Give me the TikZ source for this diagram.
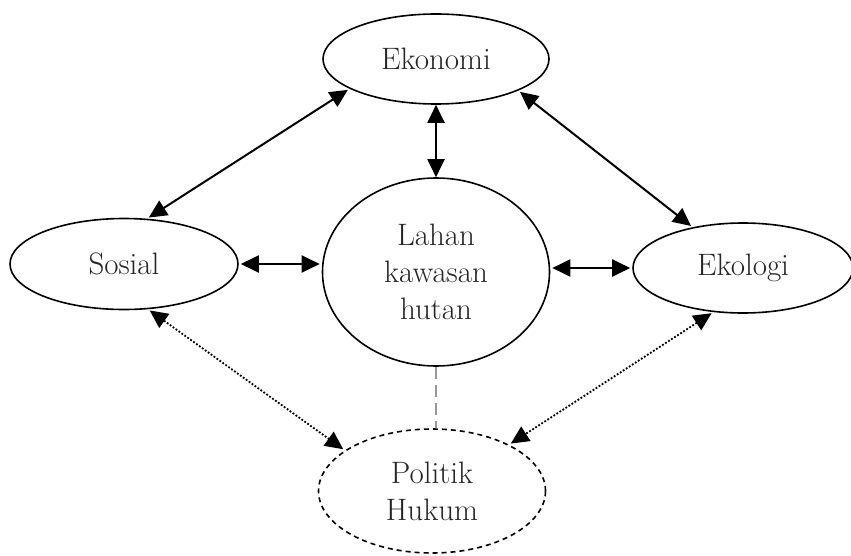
\documentclass[tikz,border=0pt]{standalone}
\usetikzlibrary{shapes.geometric,arrows.meta}

\begin{document}
\begin{tikzpicture}[x=0.5pt, y=-0.5pt,
  every node/.style={font=\fontsize{15.5}{18.5}\selectfont, text=black!85, align=center},
  aspek/.style={ellipse, draw, line width=0.8pt, inner sep=0pt},
  arr/.style={{Triangle[length=9pt, width=8.5pt]}-{Triangle[length=9pt, width=8.5pt]}, line width=1pt, shorten <=1pt, shorten >=1pt},
  titik/.style={arr, line width=0.9pt, dash pattern=on 0.9pt off 0.9pt}]
\useasboundingbox (0,0) rectangle (851,556);
\node[aspek, minimum width=113pt, minimum height=45pt] (eko) at (436,59) {Ekonomi};
\node[aspek, minimum width=114pt, minimum height=45.5pt] (sos) at (124,264) {Sosial};
\node[aspek, minimum width=113.5pt, minimum height=94pt] (lahan) at (436,272) {Lahan\\kawasan\\hutan};
\node[aspek, minimum width=110pt, minimum height=45pt] (ekol) at (743,268) {Ekologi};
\node[aspek, dashed, dash pattern=on 2.5pt off 2pt, minimum width=113.5pt, minimum height=62pt] (pol) at (432,491) {Politik\\Hukum};
% panah utama
\path[arr]
(sos.63) edge (eko.199)
(eko.south) edge[shorten <=0pt, shorten >=0pt] (lahan.north)
(eko.-21) edge (ekol.141)
(sos.east) edge (sos.east -| lahan.west)
(lahan.east |- ekol.west) edge (ekol.west);
% panah titik-titik
\path[titik]
(sos.-62) edge (pol.155)
(ekol.236) edge (pol.31);
\draw[black!40, line width=0.6pt, dash pattern=on 6pt off 3pt] (lahan.south) -- (lahan.south |- pol.north);
\end{tikzpicture}
\end{document}
